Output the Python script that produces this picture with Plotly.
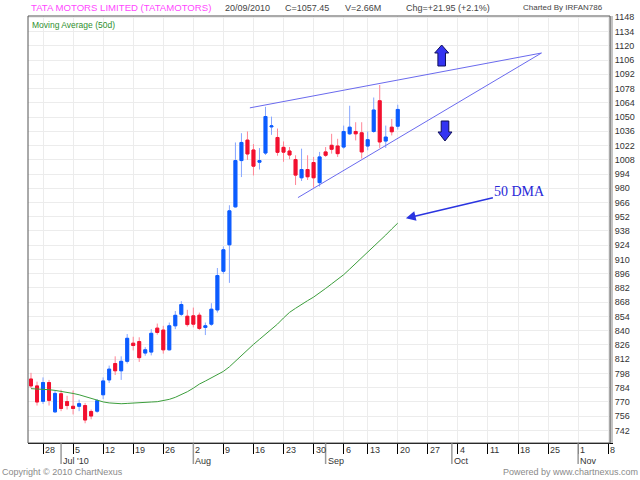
"""TATA MOTORS daily candles with 50 day moving average (ChartNexus style)."""

import pandas as pd
import plotly.graph_objects as go

# trading calendar (weekdays, minus the Ramzan Id holiday), runs into the blank future
HOLIDAYS = ["2010-09-10"]
CALENDAR = [
    d
    for d in pd.bdate_range("2010-06-24", "2010-11-08").strftime("%Y-%m-%d")
    if d not in HOLIDAYS
]
DATES = CALENDAR[: CALENDAR.index("2010-09-20") + 1]

OPEN = [
    792.5, 785.7, 770.6, 789.0, 760.2, 778.0, 770.3, 765.7, 765.7, 766.4,
    760.6, 760.9, 777.0, 791.6, 807.7, 800.6, 809.9, 827.7, 829.3, 818.0,
    819.0, 842.5, 840.6, 821.2, 844.8, 856.1, 854.2, 854.6, 855.2, 843.2,
    846.4, 860.4, 898.4, 924.4, 961.7, 1007.2, 1027.3, 1017.6, 1005.6, 1014.6,
    1040.3, 1029.9, 1020.2, 1016.6, 1008.2, 990.3, 998.4, 1005.3, 985.5, 1015.7,
    1022.2, 1021.5, 1020.5, 1033.5, 1035.8, 1034.5, 1021.5, 1035.8, 1066.0, 1026.4,
    1040.0, 1041.0,
]
HIGH = [
    798.6, 789.9, 794.1, 791.6, 781.2, 781.9, 776.0, 781.2, 772.2, 769.0,
    762.5, 772.8, 794.1, 805.7, 814.8, 814.8, 836.7, 834.0, 833.5, 823.8,
    841.5, 847.0, 844.8, 848.0, 859.3, 869.0, 860.5, 862.7, 857.8, 848.0,
    867.0, 901.6, 922.8, 963.3, 1025.0, 1034.1, 1035.8, 1023.4, 1019.5, 1060.0,
    1050.4, 1038.7, 1026.0, 1020.5, 1012.4, 1018.9, 1012.4, 1010.8, 1015.7, 1020.5,
    1033.5, 1028.6, 1041.6, 1061.1, 1044.9, 1044.9, 1035.8, 1069.2, 1081.5, 1041.6,
    1048.1, 1062.1,
]
LOW = [
    783.5, 766.4, 768.0, 766.4, 759.3, 760.9, 762.5, 757.7, 760.9, 749.0,
    752.9, 759.3, 772.8, 788.6, 796.4, 791.6, 807.7, 820.6, 809.3, 815.4,
    815.7, 836.1, 817.4, 820.6, 841.5, 854.5, 844.0, 843.2, 840.6, 835.7,
    844.8, 857.8, 895.8, 887.0, 961.0, 991.0, 1007.8, 992.6, 998.4, 1012.7,
    1032.5, 1012.0, 1006.0, 1008.5, 983.2, 987.1, 988.1, 980.6, 981.6, 1010.8,
    1014.0, 1010.8, 1018.9, 1032.5, 1027.0, 1009.2, 1017.3, 1034.5, 1019.6, 1019.6,
    1031.9, 1037.7,
]
CLOSE = [
    785.7, 769.9, 789.0, 771.5, 778.3, 763.5, 766.4, 763.5, 768.3, 752.2,
    756.1, 771.2, 790.6, 802.2, 800.6, 809.9, 832.5, 825.4, 813.5, 821.2,
    837.4, 838.3, 821.2, 844.8, 855.1, 865.7, 846.0, 846.4, 842.2, 844.8,
    861.1, 894.2, 919.5, 957.8, 1007.2, 1025.0, 1013.7, 1001.7, 1007.2, 1050.5,
    1041.3, 1015.3, 1015.5, 1012.7, 992.9, 998.4, 991.3, 990.3, 1010.8, 1012.4,
    1018.3, 1014.0, 1035.8, 1040.0, 1033.5, 1015.7, 1027.7, 1056.9, 1025.5, 1030.3,
    1035.5, 1057.45,
]
MA50 = [
    783.0, 782.8, 782.5, 782.0, 781.3, 780.5, 779.5, 778.3, 777.0, 775.3,
    773.5, 771.5, 770.0, 769.0, 768.3, 768.2, 768.5, 769.0, 769.3, 769.6,
    769.9, 770.2, 771.0, 772.5, 774.5, 777.0, 780.0, 783.5, 787.5, 790.5,
    793.5, 796.5, 800.0, 804.5, 810.0, 816.0, 821.5, 826.5, 831.5, 836.5,
    841.0, 846.5, 852.5, 858.0, 862.0, 866.0, 869.5, 873.0, 877.0, 881.5,
    886.0, 890.5, 895.0, 900.5, 906.0, 911.5, 917.5, 923.0, 928.5, 934.0,
    940.0, 945.7,
]

WEEK_TICKS = list(pd.date_range("2010-06-28", "2010-11-08", freq="7D").strftime("%Y-%m-%d"))
MONTH_STARTS = ["2010-07-01", "2010-08-02", "2010-09-01", "2010-10-01", "2010-11-01"]
MONTH_LABELS = ["Jul '10", "Aug", "Sep", "Oct", "Nov"]
PRICE_TICKS = list(range(742, 1149, 14))

# hand drawn wedge, (trading day number, price)
UPPER_LINE = [(36.4, 1059.0), (84.9, 1112.9)]
LOWER_LINE = [(44.4, 970.8), (84.9, 1112.9)]
DMA_TIP = (62.35, 950.5)

HEADER = ["20/09/2010", "C=1057.45", "V=2.66M", "Chg=+21.95 (+2.1%)"]
HEADER_X = [223, 283, 343, 404]

FONT = "Liberation Sans, Arial, sans-serif"
UP, DOWN = "#0b5cff", "#f2102f"
UP_WICK, DOWN_WICK = "#86a6ff", "#ff8595"

# plot box in pixels
PL, PR, PT, PB = 28, 610, 16, 443


def px_x(px):
    return (px - PL) / (PR - PL)


def px_y(py):
    return (PB - py) / (PB - PT)


def fat_arrow(cx, tip, base, end):
    """Block arrow path in paper coords, pointing from end to tip."""
    pts = [
        (cx, tip), (cx + 7, base), (cx + 3.8, base), (cx + 3.8, end),
        (cx - 3.8, end), (cx - 3.8, base), (cx - 7, base),
    ]
    return "M " + " L ".join(f"{px_x(x):.5f},{px_y(y):.5f}" for x, y in pts) + " Z"


def main():
    x = [CALENDAR.index(d) for d in DATES]
    body_hi = [max(o, c) for o, c in zip(OPEN, CLOSE)]
    body_lo = [min(o, c) for o, c in zip(OPEN, CLOSE)]

    fig = go.Figure()
    # wicks
    fig.add_trace(
        go.Candlestick(
            x=x, open=OPEN, high=HIGH, low=LOW, close=CLOSE,
            increasing=dict(line=dict(color=UP_WICK, width=1), fillcolor=UP_WICK),
            decreasing=dict(line=dict(color=DOWN_WICK, width=1), fillcolor=DOWN_WICK),
            whiskerwidth=0, showlegend=False, hoverinfo="skip",
        )
    )
    # bodies
    fig.add_trace(
        go.Candlestick(
            x=x, open=OPEN, high=body_hi, low=body_lo, close=CLOSE,
            increasing=dict(line=dict(color=UP, width=1), fillcolor=UP),
            decreasing=dict(line=dict(color=DOWN, width=1), fillcolor=DOWN),
            whiskerwidth=0, showlegend=False, hoverinfo="skip",
        )
    )
    fig.add_trace(
        go.Scatter(
            x=x, y=MA50, mode="lines",
            line=dict(color="#3c9e3c", width=1), showlegend=False,
        )
    )

    shapes = []
    for (x0, y0), (x1, y1) in [UPPER_LINE, LOWER_LINE]:
        shapes.append(dict(type="line", xref="x", yref="y", x0=x0, y0=y0,
                           x1=x1, y1=y1, line=dict(color="#6a6aee", width=1)))
    for m in MONTH_STARTS:
        mx = CALENDAR.index(m)
        shapes.append(dict(type="line", xref="x", yref="paper",
                           x0=mx, x1=mx, y0=0, y1=px_y(464),
                           line=dict(color="#9a9a9a", width=1.5)))
    shapes.append(dict(type="path", xref="paper", yref="paper",
                       path=fat_arrow(441.7, 45, 53, 66),
                       fillcolor="#3434f2", line=dict(color="#10105a", width=1)))
    shapes.append(dict(type="path", xref="paper", yref="paper",
                       path=fat_arrow(445, 141, 132, 121),
                       fillcolor="#3434f2", line=dict(color="#10105a", width=1)))
    shapes.append(dict(type="rect", xref="paper", yref="paper", x0=0, x1=1,
                       y0=0, y1=1, line=dict(color="#555555", width=1), layer="above"))

    ann = []
    for t in WEEK_TICKS:
        ann.append(dict(x=CALENDAR.index(t), y=px_y(450.5), xref="x", yref="paper",
                        text=str(pd.Timestamp(t).day), showarrow=False,
                        xanchor="left", yanchor="middle", xshift=0,
                        font=dict(size=9, color="#333333")))
    for m, lab in zip(MONTH_STARTS, MONTH_LABELS):
        ann.append(dict(x=CALENDAR.index(m), y=px_y(460.5), xref="x", yref="paper",
                        text=lab, showarrow=False, xanchor="left",
                        yanchor="middle", xshift=0,
                        font=dict(size=9, color="#333333")))
    ann.append(dict(x=px_x(29), y=px_y(7.5), xref="paper", yref="paper",
                    text="TATA MOTORS LIMITED (TATAMOTORS)", showarrow=False,
                    xanchor="left", yanchor="middle",
                    font=dict(size=9.6, color="#ff48ff")))
    for txt, hx in zip(HEADER, HEADER_X):
        ann.append(dict(x=px_x(hx), y=px_y(7.5), xref="paper", yref="paper",
                        text=txt, showarrow=False, xanchor="left",
                        yanchor="middle", font=dict(size=9, color="#444444")))
    ann.append(dict(x=px_x(605), y=px_y(7.5), xref="paper", yref="paper",
                    text="Charted By IRFAN786", showarrow=False,
                    xanchor="right", yanchor="middle",
                    font=dict(size=8, color="#444444")))
    ann.append(dict(x=px_x(30), y=px_y(24.6), xref="paper", yref="paper",
                    text="Moving Average (50d)", showarrow=False,
                    xanchor="left", yanchor="middle",
                    font=dict(size=8.5, color="#2f8f2f")))
    ann.append(dict(x=px_x(0), y=px_y(472), xref="paper", yref="paper",
                    text="Copyright © 2010 ChartNexus", showarrow=False,
                    xanchor="left", yanchor="middle",
                    font=dict(size=9, color="#8a8a8a")))
    ann.append(dict(x=px_x(640), y=px_y(472), xref="paper", yref="paper",
                    text="Powered by www.chartnexus.com", showarrow=False,
                    xanchor="right", yanchor="middle",
                    font=dict(size=9, color="#8a8a8a")))
    ann.append(dict(x=DMA_TIP[0], y=DMA_TIP[1], xref="x", yref="y",
                    text="50 DMA", showarrow=True, ax=114, ay=-27,
                    arrowhead=2, arrowsize=1.3, arrowwidth=1.5,
                    arrowcolor="#2a34e0", standoff=0,
                    font=dict(family="Liberation Serif, Times New Roman, serif",
                              size=14, color="#2828d8")))

    fig.update_layout(
        width=640, height=480, autosize=False,
        margin=dict(l=PL, r=640 - PR, t=PT, b=480 - PB, autoexpand=False),
        paper_bgcolor="white", plot_bgcolor="white",
        font=dict(family=FONT, size=9, color="#333333"),
        shapes=shapes, annotations=ann, showlegend=False,
        xaxis=dict(
            range=[-0.5, 96.3],
            rangeslider=dict(visible=False),
            tickmode="array", tickvals=[CALENDAR.index(t) for t in WEEK_TICKS],
            showticklabels=False, ticks="outside", ticklen=10,
            tickcolor="#000000", tickwidth=1,
            showgrid=True, gridcolor="#ececec", gridwidth=1,
            showline=True, linecolor="#000000", linewidth=1,
            zeroline=False, fixedrange=True,
        ),
        yaxis=dict(
            side="right", range=[729.6, 1149.3],
            tickmode="array", tickvals=PRICE_TICKS, ticks="",
            showgrid=True, gridcolor="#ececec", gridwidth=1,
            showline=True, linecolor="#c4c4c4", linewidth=3,
            tickfont=dict(size=9, color="#333333"),
            zeroline=False, fixedrange=True,
        ),
    )
    # page has a default 8px body margin; drop it so the figure sits at 0,0
    fig.write_html(
        "out.html",
        config={"displayModeBar": False},
        post_script="document.body.style.margin = '0';",
    )


if __name__ == "__main__":
    main()
